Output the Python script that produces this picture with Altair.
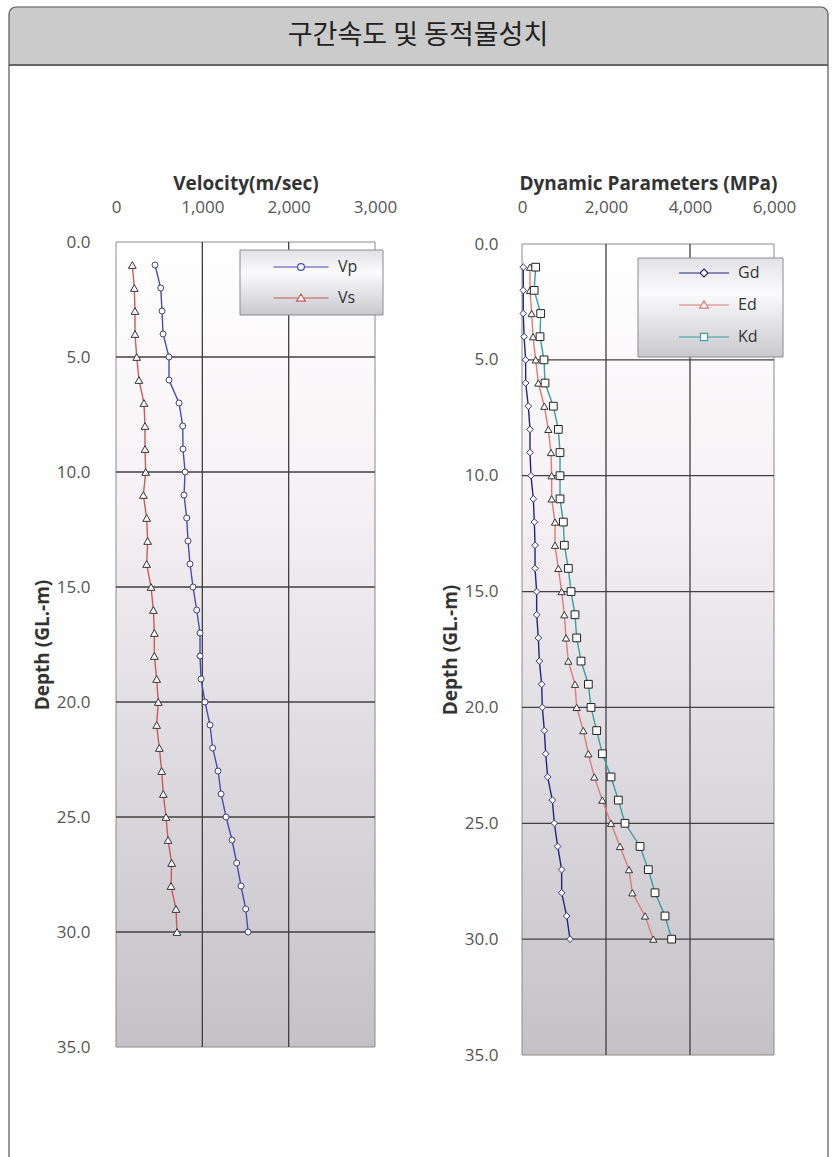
import altair as alt
import pandas as pd

# ---------------- data ----------------
depth = list(range(1, 31))
vp = [452, 518, 533, 545, 614, 614, 730, 773, 776, 800, 788, 819, 834, 857, 892,
      935, 973, 973, 985, 1031, 1089, 1120, 1182, 1217, 1275, 1344, 1398, 1448, 1503, 1530]
vs = [189, 212, 220, 220, 240, 266, 324, 336, 336, 344, 317, 355, 367, 355, 406,
      433, 444, 444, 471, 490, 471, 502, 529, 548, 579, 603, 645, 637, 695, 707]
gd = [30, 30, 30, 50, 87, 87, 151, 190, 190, 214, 270, 294, 310, 310, 349,
      349, 389, 413, 468, 484, 532, 564, 611, 722, 770, 849, 944, 944, 1063, 1143]
ed = [190, 190, 230, 262, 326, 389, 532, 627, 690, 706, 706, 786, 786, 865, 944,
      1008, 1048, 1103, 1262, 1302, 1460, 1580, 1722, 1913, 2119, 2333, 2548, 2627, 2929, 3127]
kd = [326, 290, 445, 429, 524, 548, 746, 865, 905, 905, 905, 984, 1008, 1103, 1167,
      1262, 1302, 1405, 1580, 1643, 1778, 1913, 2119, 2294, 2452, 2810, 3008, 3167, 3405, 3563]

vel_series = ["Vp", "Vs"]
dyn_series = ["Gd", "Ed", "Kd"]
vel_ticks = [0, 1000, 2000, 3000]
dyn_ticks = [0, 2000, 4000, 6000]
depth_ticks = [0, 5, 10, 15, 20, 25, 30, 35]
vel_grid = [1000, 2000]
dyn_grid = [2000, 4000]
depth_grid = [5, 10, 15, 20, 25, 30]

main_title = "구간속도 및 동적물성치"
vel_title = "Velocity(m/sec)"
dyn_title = "Dynamic Parameters (MPa)"
depth_title = "Depth  (GL.-m)"

FONT = "Open Sans"
KFONT = "Noto Sans CJK KR"

# ---------------- helpers ----------------
def long_df(names, arrays):
    rows = []
    for n, arr in zip(names, arrays):
        for d, v in zip(depth, arr):
            rows.append({"depth": d, "series": n, "value": v})
    return pd.DataFrame(rows)


plot_bg = alt.LinearGradient(
    gradient="linear", x1=0, x2=0, y1=0, y2=1,
    stops=[alt.GradientStop(offset=0, color="#ffffff"),
           alt.GradientStop(offset=0.3, color="#f6f2f5"),
           alt.GradientStop(offset=0.6, color="#e1dee3"),
           alt.GradientStop(offset=1, color="#c4c2c7")])

legend_bg = alt.LinearGradient(
    gradient="linear", x1=0, x2=0, y1=0, y2=1,
    stops=[alt.GradientStop(offset=0, color="#e2e2e6"),
           alt.GradientStop(offset=0.35, color="#fbfbfd"),
           alt.GradientStop(offset=1, color="#c9c8cd")])


def panel(df, series, line_colors, shapes, marker_strokes, marker_sizes,
          xdom, xrange, yrange, xticks, xgrid, xtitle, ylab_right, box):
    xs = alt.Scale(domain=xdom, range=xrange, nice=False, zero=False)
    ys = alt.Scale(domain=[0, 35], range=yrange, nice=False, zero=False)
    xaxis = alt.Axis(orient="top", values=xticks, format=",.0f", offset=-207,
                     domain=False, ticks=False, tickSize=0, labelPadding=0,
                     grid=False, labelFlush=False, labelOverlap=False,
                     labelBaseline="middle", labelFont=FONT, labelFontSize=17,
                     labelColor="#555555", title=xtitle, titleFont=FONT,
                     titleFontSize=19, titleFontWeight="bold", titleColor="#333333",
                     titleX=(xrange[0] + xrange[1]) / 2, titleY=-24,
                     titleAlign="center", titleBaseline="middle", titleAngle=0)
    yaxis = alt.Axis(orient="left", values=depth_ticks, format=".1f",
                     offset=-ylab_right, domain=False, ticks=False, tickSize=0,
                     labelPadding=0, grid=False, labelFlush=False,
                     labelOverlap=False, labelFont=FONT, labelFontSize=17,
                     labelColor="#555555", title=depth_title, titleFont=FONT,
                     titleFontSize=19, titleFontWeight="bold", titleColor="#333333",
                     titleX=-48, titleY=(yrange[0] + yrange[1]) / 2,
                     titleAngle=270, titleAlign="center", titleBaseline="middle")

    frame_df = pd.DataFrame({"x0": [xdom[0]], "x1": [xdom[1]], "y0": [0], "y1": [35]})
    bg = alt.Chart(frame_df).mark_rect(fill=plot_bg, stroke="#8a8a8a", strokeWidth=1).encode(
        x=alt.X("x0:Q", scale=xs, axis=xaxis), x2="x1:Q",
        y=alt.Y("y0:Q", scale=ys, axis=yaxis), y2="y1:Q")

    hgrid = alt.Chart(pd.DataFrame({"d": depth_grid, "x0": xdom[0], "x1": xdom[1]})).mark_rule(
        color="#404040", strokeWidth=1.3).encode(
        x=alt.X("x0:Q", scale=xs, axis=xaxis), x2="x1:Q",
        y=alt.Y("d:Q", scale=ys, axis=yaxis))

    vgrid = alt.Chart(pd.DataFrame({"g": xgrid, "y0": 0, "y1": 35})).mark_rule(
        color="#404040", strokeWidth=1.3).encode(
        x=alt.X("g:Q", scale=xs, axis=xaxis),
        y=alt.Y("y0:Q", scale=ys, axis=yaxis), y2="y1:Q")

    lines = alt.Chart(df).mark_line(strokeWidth=1.4).encode(
        x=alt.X("value:Q", scale=xs, axis=xaxis),
        y=alt.Y("depth:Q", scale=ys, axis=yaxis),
        order=alt.Order("depth:Q"),
        color=alt.Color("series:N", scale=alt.Scale(domain=series, range=line_colors),
                        legend=None))

    points = alt.Chart(df).mark_point(fill="white", filled=False, strokeWidth=1,
                                      opacity=1).encode(
        x=alt.X("value:Q", scale=xs, axis=xaxis),
        y=alt.Y("depth:Q", scale=ys, axis=yaxis),
        shape=alt.Shape("series:N", scale=alt.Scale(domain=series, range=shapes), legend=None),
        stroke=alt.Stroke("series:N", scale=alt.Scale(domain=series, range=marker_strokes),
                          legend=None),
        size=alt.Size("series:N", scale=alt.Scale(domain=series, range=marker_sizes),
                      legend=None))

    lbox = alt.Chart(pd.DataFrame({"k": [0]})).mark_rect(
        fill=legend_bg, stroke="#8c8c8c", strokeWidth=1).encode(
        x=alt.value(box[0]), x2=alt.value(box[1]),
        y=alt.value(box[2]), y2=alt.value(box[3]))

    return alt.layer(bg, hgrid, vgrid, lines, points, lbox)


def legend_layer(series, colors, paths, lx, ly, loffset, rpad):
    leg = alt.Legend(orient="none", legendX=lx, legendY=ly, title=None, padding=0,
                     labelFont=FONT, labelFontSize=16, labelColor="#333333",
                     symbolSize=64, symbolStrokeWidth=1.2, symbolOpacity=1,
                     symbolFillColor="white", labelOffset=loffset, rowPadding=rpad)
    return alt.Chart(pd.DataFrame({"series": series})).mark_point(
        opacity=0, filled=False, fill="white").encode(
        x=alt.value(0), y=alt.value(0),
        shape=alt.Shape("series:N", scale=alt.Scale(domain=series, range=paths), legend=leg),
        color=alt.Color("series:N", scale=alt.Scale(domain=series, range=colors), legend=leg))


# legend symbols: line with a marker in the middle (unit = 4 px)
P_CIRCLE = "M-6.9,0H-0.85M0.85,0H6.9M-0.85,0A0.85,0.85 0 1 1 0.85,0A0.85,0.85 0 1 1 -0.85,0Z"
P_TRI = "M-6.9,0H-0.6M0.6,0H6.9M0,-1L1.1,0.8L-1.1,0.8Z"
P_DIAM = "M-6.25,0H-1M1,0H6.25M0,-1L1,0L0,1L-1,0Z"
P_TRI2 = "M-6.25,0H-0.6M0.6,0H6.25M0,-1L1.1,0.8L-1.1,0.8Z"
P_SQ = "M-6.25,0H-0.9M0.9,0H6.25M-0.9,-0.9H0.9V0.9H-0.9Z"

vel_colors = ["#4a4ab4", "#c85a5a"]
dyn_colors = ["#25257a", "#e07a7a", "#3a9e9e"]

left = panel(long_df(vel_series, [vp, vs]), vel_series,
             vel_colors, ["circle", "triangle-up"],
             ["#44447a", "#333333"], [36, 60],
             [0, 3000], [116, 375], [242, 1047], vel_ticks, vel_grid, vel_title, 90,
             (240, 383, 250, 315))

right = panel(long_df(dyn_series, [gd, ed, kd]), dyn_series,
              dyn_colors, ["diamond", "triangle-up", "square"],
              ["#333380", "#333333", "#222222"], [45, 60, 60],
              [0, 6000], [522, 774], [244, 1055], dyn_ticks, dyn_grid, dyn_title, 498,
              (638, 783, 258, 357))

left_leg = legend_layer(vel_series, vel_colors, [P_CIRCLE, P_TRI], 293, 259, 29, 15)
right_leg = legend_layer(dyn_series, dyn_colors, [P_DIAM, P_TRI2, P_SQ], 696, 265, 26, 16)

# ---------------- page frame and header ----------------
one = pd.DataFrame({"k": [0]})
header = alt.Chart(one).mark_rect(
    fill="#cbcbcb", stroke="#555555", strokeWidth=1.2,
    cornerRadiusTopLeft=7, cornerRadiusTopRight=7).encode(
    x=alt.value(9), x2=alt.value(828), y=alt.value(7), y2=alt.value(65))
header_line = alt.Chart(one).mark_rule(color="#666666", strokeWidth=2).encode(
    x=alt.value(9), x2=alt.value(828), y=alt.value(65))
side_l = alt.Chart(one).mark_rule(color="#555555", strokeWidth=1.2).encode(
    x=alt.value(9), y=alt.value(65), y2=alt.value(1157))
side_r = alt.Chart(one).mark_rule(color="#555555", strokeWidth=1.2).encode(
    x=alt.value(828), y=alt.value(65), y2=alt.value(1157))
title_txt = alt.Chart(one).mark_text(
    text=main_title, font=KFONT, fontSize=27, color="#222222",
    align="center", baseline="middle").encode(x=alt.value(418), y=alt.value(36))

deco = alt.layer(header, header_line, side_l, side_r, title_txt)

chart = alt.layer(left, right, left_leg, right_leg, deco).resolve_scale(
    x="independent", y="independent", color="independent",
    shape="independent", stroke="independent", size="independent"
).resolve_axis(x="independent", y="independent").resolve_legend(
    color="independent", shape="independent"
).properties(
    width=832, height=1157, padding=0,
    autosize=alt.AutoSizeParams(type="none"),
    background="white"
).configure_view(stroke=None)

chart.save("out.html", embed_options={"renderer": "svg", "actions": False})
